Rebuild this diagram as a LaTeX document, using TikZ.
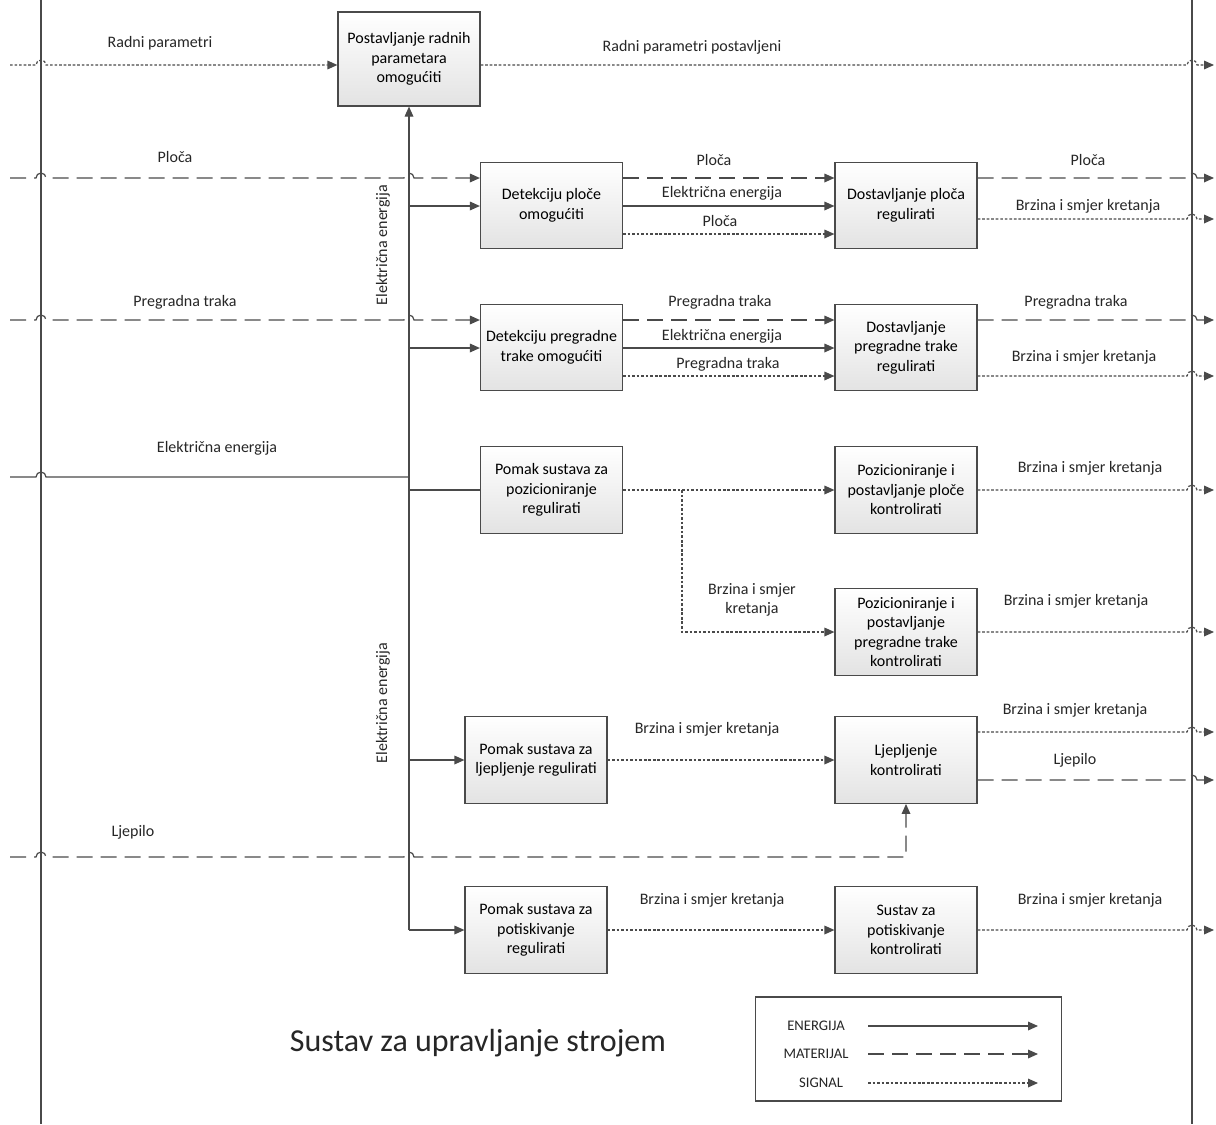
\documentclass[tikz,border=0pt]{standalone}
\usepackage{fontspec}
\setmainfont{Carlito}
\usepackage{xcolor}
\usetikzlibrary{arrows.meta, calc}

\definecolor{linec}{HTML}{4A4A4A}
\newcommand{\hop}[2]{-- (#1-5,#2) arc[start angle=180,end angle=0,radius=3.75pt]}

\tikzset{
    fbox/.style={draw=linec, line width=0.9pt, top color=white, bottom color=gray!22,
        minimum width=106.5pt, minimum height=65pt, align=center,
        inner sep=2pt, font=\fontsize{12}{14.6}\selectfont},
    lbl/.style={font=\fontsize{12}{14.6}\selectfont, text=black!85, align=center, inner sep=0pt},
    ene/.style={draw=linec, line width=0.9pt},
    mat/.style={draw=linec, line width=0.9pt, dash pattern=on 12pt off 6pt},
    sig/.style={draw=linec, line width=0.9pt, dash pattern=on 2pt off 1.4pt},
    >={Triangle[length=7.5pt,width=6.5pt]}
}

\begin{document}
\begin{tikzpicture}[x=0.75pt,y=-0.75pt]
    \useasboundingbox (0,0) rectangle (1216,1124);

    % boxes
    \node[fbox, minimum height=70.5pt] (v_1) at (409,59) {Postavljanje radnih\\parametara\\omogućiti};
    \node[fbox] (v_2) at (551.5,205.5) {Detekciju ploče\\omogućiti};
    \node[fbox] (v_3) at (906,205.5) {Dostavljanje ploča\\regulirati};
    \node[fbox] (v_4) at (551.5,347.5) {Detekciju pregradne\\trake omogućiti};
    \node[fbox] (v_5) at (906,347.5) {Dostavljanje\\pregradne trake\\regulirati};
    \node[fbox] (v_6) at (551.5,490) {Pomak sustava za\\pozicioniranje\\regulirati};
    \node[fbox] (v_7) at (906,490) {Pozicioniranje i\\postavljanje ploče\\kontrolirati};
    \node[fbox] (v_8) at (906,632) {Pozicioniranje i\\postavljanje\\pregradne trake\\kontrolirati};
    \node[fbox] (v_9) at (536,760) {Pomak sustava za\\ljepljenje regulirati};
    \node[fbox] (v_10) at (906,760) {Ljepljenje\\kontrolirati};
    \node[fbox] (v_11) at (536,930) {Pomak sustava za\\potiskivanje\\regulirati};
    \node[fbox] (v_12) at (906,930) {Sustav za\\potiskivanje\\kontrolirati};

    % free ends
    \coordinate (in_1) at (10,65);
    \coordinate (in_2) at (10,178);
    \coordinate (in_3) at (10,320);
    \coordinate (in_4) at (10,477);
    \coordinate (in_5) at (10,857);
    \coordinate (j_1) at (409,477);
    \coordinate (j_2) at (409,930);
    \coordinate (j_3) at (682,490);

    % system boundary
    \draw[ene] (41,0) -- (41,1124);
    \draw[ene] (1192,0) -- (1192,1124);

    % inputs
    \draw[sig,->] (in_1) \hop{41}{65} -- (v_1.west |- 0,65);
    \draw[mat,->] (in_2) \hop{41}{178} \hop{409}{178} -- (v_2.west |- 0,178);
    \draw[mat,->] (in_3) \hop{41}{320} \hop{409}{320} -- (v_4.west |- 0,320);
    \draw[ene] (in_4) \hop{41}{477} -- (j_1);
    \draw[mat,->] (in_5) \hop{41}{857} \hop{409}{857} -| (v_10.south);

    % energy distribution
    \draw[ene,->] (j_2) -- (v_1.south);
    \draw[ene,->] (j_2) -- (v_11.west);
    \draw[ene,->] (j_2 |- 0,206) -- (v_2.west |- 0,206);
    \draw[ene,->] (j_2 |- 0,348) -- (v_4.west |- 0,348);
    \draw[ene] (j_2 |- 0,490) -- (v_6.west);
    \draw[ene,->] (j_2 |- 0,760) -- (v_9.west);

    % internal flows
    \draw[mat,->] (v_2.east |- 0,178) -- (v_3.west |- 0,178);
    \draw[ene,->] (v_2.east |- 0,206) -- (v_3.west |- 0,206);
    \draw[sig,->] (v_2.east |- 0,234) -- (v_3.west |- 0,234);
    \draw[mat,->] (v_4.east |- 0,320) -- (v_5.west |- 0,320);
    \draw[ene,->] (v_4.east |- 0,348) -- (v_5.west |- 0,348);
    \draw[sig,->] (v_4.east |- 0,376) -- (v_5.west |- 0,376);
    \draw[sig,->] (v_6.east) -- (v_7.west);
    \draw[sig,->] (j_3) |- (v_8.west);
    \draw[sig,->] (v_9.east) -- (v_10.west);
    \draw[sig,->] (v_11.east) -- (v_12.west);

    % outputs
    \draw[sig,->] (v_1.east |- 0,65) \hop{1192}{65} -- (1214,65);
    \draw[mat,->] (v_3.east |- 0,178) \hop{1192}{178} -- (1214,178);
    \draw[sig,->] (v_3.east |- 0,219) \hop{1192}{219} -- (1214,219);
    \draw[mat,->] (v_5.east |- 0,320) \hop{1192}{320} -- (1214,320);
    \draw[sig,->] (v_5.east |- 0,376) \hop{1192}{376} -- (1214,376);
    \draw[sig,->] (v_7.east) \hop{1192}{490} -- (1214,490);
    \draw[sig,->] (v_8.east) \hop{1192}{632} -- (1214,632);
    \draw[sig,->] (v_10.east |- 0,732) \hop{1192}{732} -- (1214,732);
    \draw[mat,->] (v_10.east |- 0,780) \hop{1192}{780} -- (1214,780);
    \draw[sig,->] (v_12.east) \hop{1192}{930} -- (1214,930);

    % labels
    \node[lbl] (t_1) at (160,43) {Radni parametri};
    \node[lbl] (t_2) at (692,47) {Radni parametri postavljeni};
    \node[lbl] (t_3) at (175,157) {Ploča};
    \node[lbl] (t_4) at (714,160) {Ploča};
    \node[lbl] (t_5) at (722,193) {Električna energija};
    \node[lbl] (t_6) at (720,221) {Ploča};
    \node[lbl] (t_7) at (1088,160) {Ploča};
    \node[lbl] (t_8) at (1088,206) {Brzina i smjer kretanja};
    \node[lbl] (t_9) at (185,302) {Pregradna traka};
    \node[lbl] (t_10) at (720,302) {Pregradna traka};
    \node[lbl] (t_11) at (722,336) {Električna energija};
    \node[lbl] (t_12) at (728,364) {Pregradna traka};
    \node[lbl] (t_13) at (1076,302) {Pregradna traka};
    \node[lbl] (t_14) at (1084,357) {Brzina i smjer kretanja};
    \node[lbl] (t_15) at (217,448) {Električna energija};
    \node[lbl] (t_16) at (1090,468) {Brzina i smjer kretanja};
    \node[lbl] (t_17) at (752,600) {Brzina i smjer\\kretanja};
    \node[lbl] (t_18) at (1076,601) {Brzina i smjer kretanja};
    \node[lbl] (t_19) at (707,729) {Brzina i smjer kretanja};
    \node[lbl] (t_20) at (1075,710) {Brzina i smjer kretanja};
    \node[lbl] (t_21) at (1075,760) {Ljepilo};
    \node[lbl] (t_22) at (133,832) {Ljepilo};
    \node[lbl] (t_23) at (712,900) {Brzina i smjer kretanja};
    \node[lbl] (t_24) at (1090,900) {Brzina i smjer kretanja};
    \node[lbl, rotate=90] (t_25) at (383,245) {Električna energija};
    \node[lbl, rotate=90] (t_26) at (383,703) {Električna energija};

    % title
    \node[lbl, font=\fontsize{24}{28}\selectfont] (title) at (478,1043) {Sustav za upravljanje strojem};

    % legend
    \node[draw=linec, line width=0.9pt, minimum width=230pt, minimum height=78pt, inner sep=0pt] (legend) at (908.5,1049) {};
    \node[lbl, font=\fontsize{11}{13}\selectfont] (k_1) at (816,1026) {ENERGIJA};
    \node[lbl, font=\fontsize{11}{13}\selectfont] (k_2) at (816,1054) {MATERIJAL};
    \node[lbl, font=\fontsize{11}{13}\selectfont] (k_3) at (821,1083) {SIGNAL};
    \coordinate (a_1) at (868,1026);
    \coordinate (b_1) at (1038,1026);
    \coordinate (a_2) at (868,1054);
    \coordinate (b_2) at (1038,1054);
    \coordinate (a_3) at (868,1083);
    \coordinate (b_3) at (1038,1083);
    \draw[ene,->] (a_1) -- (b_1);
    \draw[mat,->] (a_2) -- (b_2);
    \draw[sig,->] (a_3) -- (b_3);
\end{tikzpicture}
\end{document}
